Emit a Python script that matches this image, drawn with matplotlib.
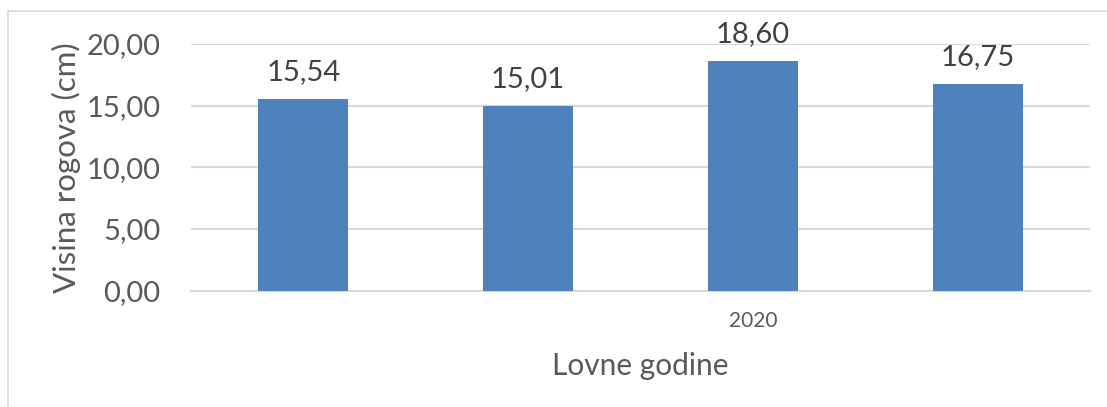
import matplotlib.pyplot as plt
from matplotlib.patches import Rectangle

# values
categories = ["", "", "2020", ""]
heights = [15.54, 15.01, 18.60, 16.75]
y_ticks = [0, 5, 10, 15, 20]

plt.rcParams['font.family'] = ['Lato', 'DejaVu Sans']

fig = plt.figure(figsize=(11.07, 4.07), dpi=100)
ax = fig.add_axes([0.1725, 0.2862, 0.8121, 0.6057])

x = list(range(len(heights)))
bars = ax.bar(x, heights, width=0.4, color='#4f81bd', zorder=3)

for rect, h in zip(bars, heights):
    ax.annotate(f"{h:.2f}".replace('.', ','),
                (rect.get_x() + rect.get_width() / 2, h),
                xytext=(0, 10), textcoords='offset points',
                ha='center', va='bottom', fontsize=21, color='#404040')

ax.set_xlim(-0.5, len(heights) - 0.5)
ax.set_ylim(0, 20)
ax.set_yticks(y_ticks)
ax.set_yticklabels([f"{t:.2f}".replace('.', ',') for t in y_ticks])
ax.set_xticks(x)
ax.set_xticklabels(categories)

ax.tick_params(axis='y', length=0, labelsize=21, labelcolor='#595959', pad=22)
ax.tick_params(axis='x', length=0, labelsize=15, labelcolor='#595959', pad=15)

ax.grid(axis='y', color='#d9d9d9', linewidth=1.5, zorder=0)
for side in ['top', 'right', 'left']:
    ax.spines[side].set_visible(False)
ax.spines['bottom'].set_color('#d9d9d9')
ax.spines['bottom'].set_linewidth(1.5)

ax.set_ylabel("Visina rogova (cm)", fontsize=22.5, color='#595959', labelpad=4)
ax.set_xlabel("Lovne godine", fontsize=21.5, color='#595959', labelpad=15)

# outer chart frame (only left and top visible in the crop)
fig.patches.append(Rectangle((8 / 1107, -0.1), 1.2, (407 - 11) / 407 + 0.1,
                             transform=fig.transFigure, fill=False,
                             edgecolor='#d9d9d9', linewidth=1.2))

fig.savefig("out.png", dpi=100)
